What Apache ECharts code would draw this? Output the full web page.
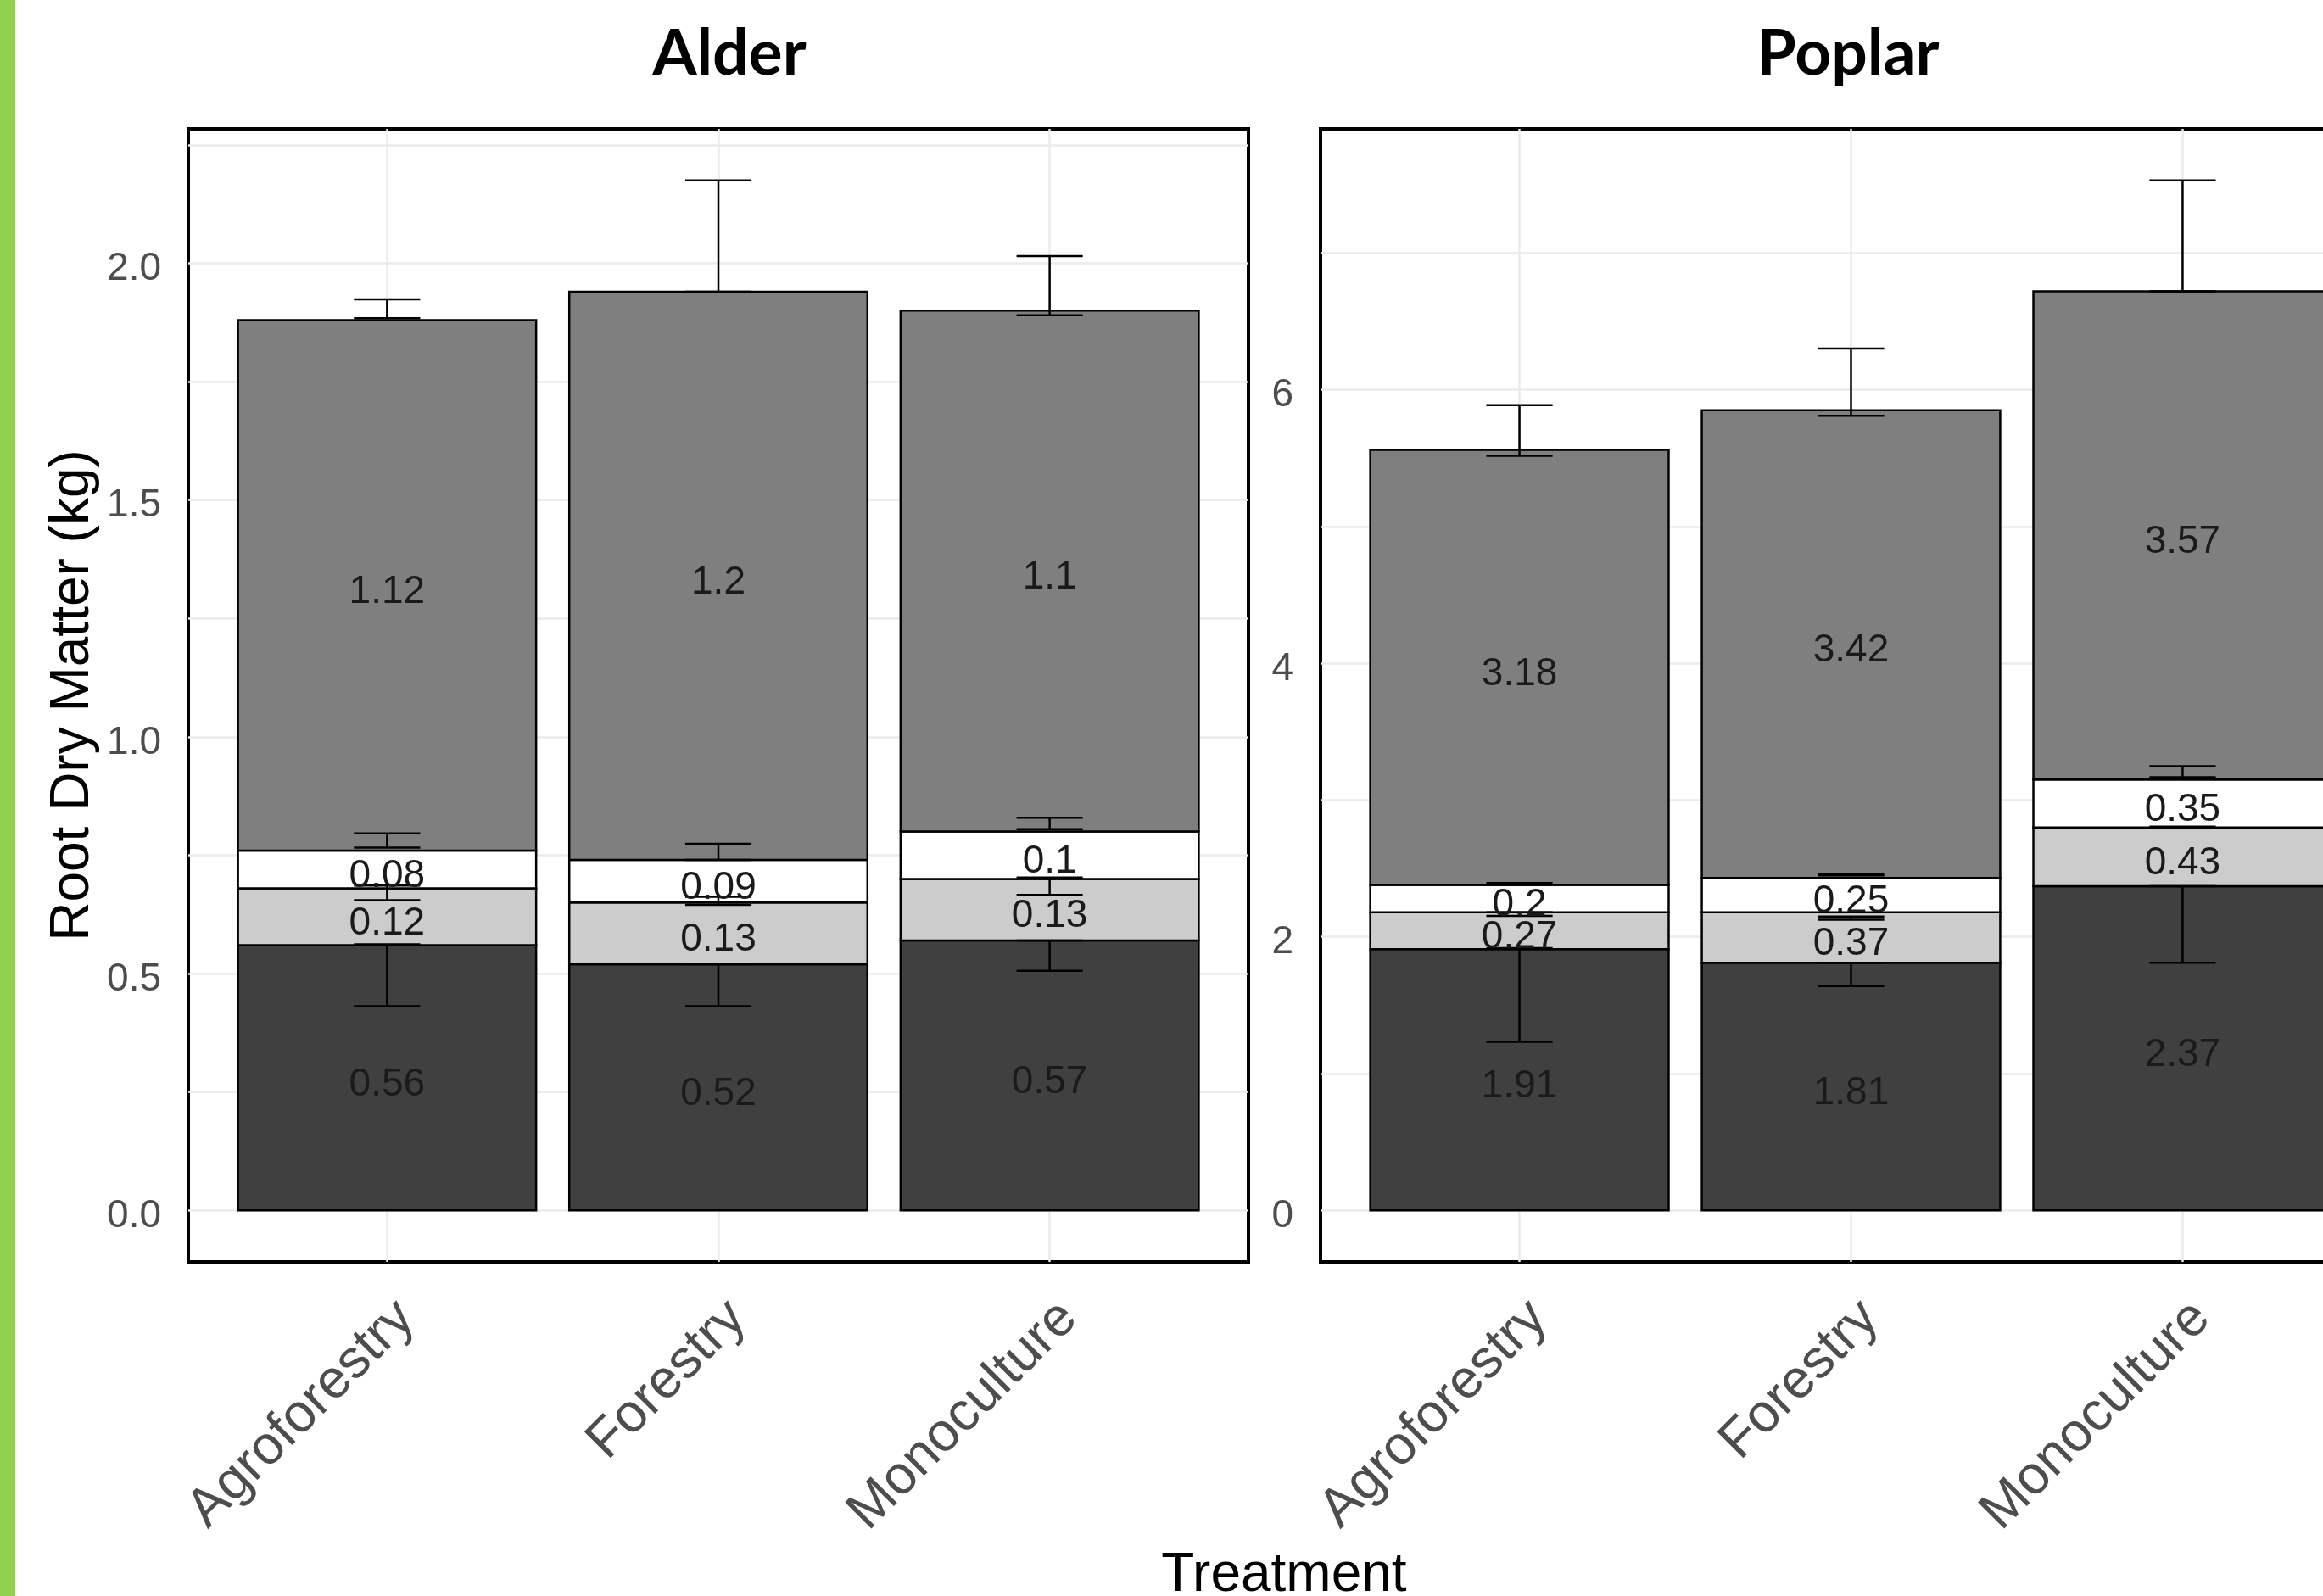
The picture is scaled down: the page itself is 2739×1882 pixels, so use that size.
<!DOCTYPE html>
<html>
<head>
<meta charset="utf-8">
<title>Root Dry Matter</title>
<script src="https://cdn.jsdelivr.net/npm/echarts@6/dist/echarts.min.js"></script>
<style>
  html, body { margin: 0; padding: 0; background: #fff; overflow: hidden; }
  #chart { position: absolute; left: 0; top: 0; width: 2900px; height: 1882px; }
  .edge { position: absolute; left: 0; top: 0; width: 18px; height: 1882px; background: #92d050; z-index: 2; }
</style>
</head>
<body>
<div id="chart"></div>
<div class="edge"></div>
<script>
// x categories (same for both panels)
const treatments = ['Agroforestry', 'Forestry', 'Monoculture'];

// Alder, stacked parts from bottom to top
const alderBottom = [0.56, 0.52, 0.57];
const alderLower = [0.12, 0.13, 0.13];
const alderUpper = [0.08, 0.09, 0.1];
const alderTop = [1.12, 1.2, 1.1];
// Alder error bars [low, high]
const alderErrBottom = [[0.431, 0.562], [0.431, 0.52], [0.506, 0.57]];
const alderErrLower = [[0.655, 0.686], [0.645, 0.662], [0.666, 0.703]];
const alderErrUpper = [[0.766, 0.796], [0.74, 0.774], [0.805, 0.829]];
const alderErrTop = [[1.884, 1.924], [1.94, 2.175], [1.89, 2.015]];

// Poplar, stacked parts from bottom to top
const poplarBottom = [1.91, 1.81, 2.37];
const poplarLower = [0.27, 0.37, 0.43];
const poplarUpper = [0.2, 0.25, 0.35];
const poplarTop = [3.18, 3.42, 3.57];
// Poplar error bars [low, high]
const poplarErrBottom = [[1.232, 1.918], [1.64, 1.81], [1.81, 2.37]];
const poplarErrLower = [[2.153, 2.18], [2.125, 2.149], [2.795, 2.805]];
const poplarErrUpper = [[2.38, 2.394], [2.449, 2.461], [3.167, 3.248]];
const poplarErrTop = [[5.516, 5.887], [5.81, 6.3], [6.72, 7.53]];

// y tick labels and minor grid
const alderTicks = [0, 0.5, 1, 1.5, 2];
const alderMinor = [0.25, 0.75, 1.25, 1.75, 2.25];
const poplarTicks = [0, 2, 4, 6];
const poplarMinor = [1, 3, 5, 7];

const layerColors = ['#404040', '#cccccc', '#ffffff', '#7f7f7f'];
const gridColor = '#ebebeb';
const font = '"Liberation Sans", Arial, sans-serif';
const xPad = 0.6;

// cumulative stacking -> [x, base, top, value]
function stackLayers(layers) {
  const base = treatments.map(() => 0);
  return layers.map(vals => vals.map((v, i) => {
    const item = [i + 1, base[i], base[i] + v, v];
    base[i] += v;
    return item;
  }));
}

function panelSeries(p, layers, errs) {
  const stacked = stackLayers(layers);
  const out = [];
  stacked.forEach((data, k) => {
    out.push({
      type: 'custom', xAxisIndex: p, yAxisIndex: p, z: 2,
      itemStyle: { color: layerColors[k] },
      data: data,
      renderItem: (params, api) => {
        const x = api.value(0);
        const a = api.coord([x - 0.45, api.value(2)]);
        const b = api.coord([x + 0.45, api.value(1)]);
        return {
          type: 'rect',
          shape: { x: a[0], y: a[1], width: b[0] - a[0], height: b[1] - a[1] },
          style: { fill: api.visual('color'), stroke: '#000', lineWidth: 2.5 }
        };
      }
    });
  });
  // error bars
  const errData = [];
  errs.forEach(layer => layer.forEach((e, i) => errData.push([i + 1, e[0], e[1]])));
  out.push({
    type: 'custom', xAxisIndex: p, yAxisIndex: p, z: 3,
    data: errData,
    renderItem: (params, api) => {
      const x = api.value(0);
      const lo = api.coord([x - 0.1, api.value(1)]);
      const hi = api.coord([x + 0.1, api.value(2)]);
      const mid = (lo[0] + hi[0]) / 2;
      const st = () => ({ stroke: '#000', lineWidth: 2.5 });
      return {
        type: 'group',
        children: [
          { type: 'line', shape: { x1: mid, y1: lo[1], x2: mid, y2: hi[1] }, style: st() },
          { type: 'line', shape: { x1: lo[0], y1: lo[1], x2: hi[0], y2: lo[1] }, style: st() },
          { type: 'line', shape: { x1: lo[0], y1: hi[1], x2: hi[0], y2: hi[1] }, style: st() }
        ]
      };
    }
  });
  // value labels in the middle of each part
  out.push({
    type: 'custom', xAxisIndex: p, yAxisIndex: p, z: 4,
    data: [].concat(...stacked),
    renderItem: (params, api) => {
      const pt = api.coord([api.value(0), (api.value(1) + api.value(2)) / 2]);
      return {
        type: 'text', x: pt[0], y: pt[1] + 8,
        style: { text: String(api.value(3)), font: '46px ' + font, fill: '#1a1a1a', align: 'center', verticalAlign: 'middle' }
      };
    }
  });
  return out;
}

function maxOf(errs) {
  return Math.max(...[].concat(...errs).map(e => e[1]));
}
const alderErrs = [alderErrBottom, alderErrLower, alderErrUpper, alderErrTop];
const poplarErrs = [poplarErrBottom, poplarErrLower, poplarErrUpper, poplarErrTop];
const alderMax = maxOf(alderErrs);
const poplarMax = maxOf(poplarErrs);

function xAxisFor(p) {
  const ticks = treatments.map((t, i) => i + 1);
  return {
    gridIndex: p, type: 'value', min: 1 - xPad, max: treatments.length + xPad,
    axisLine: { show: false },
    axisTick: { show: false, customValues: ticks },
    splitLine: { show: true, lineStyle: { color: gridColor, width: 2.5 } },
    axisLabel: {
      customValues: ticks, formatter: v => treatments[Math.round(v) - 1],
      rotate: 45, align: 'right', verticalAlign: 'top', margin: 34,
      fontSize: 64, color: '#4d4d4d', fontFamily: font
    }
  };
}

function yAxisFor(p, max, ticks, minor, fmt) {
  return {
    gridIndex: p, type: 'value', min: -0.05 * max, max: 1.05 * max,
    axisLine: { show: false },
    axisTick: { show: false, customValues: ticks.concat(minor) },
    splitLine: { show: true, lineStyle: { color: gridColor, width: 2.5 } },
    axisLabel: {
      customValues: ticks, formatter: fmt, fontSize: 46, color: '#4d4d4d', margin: 32,
      fontFamily: font, verticalAlign: 'top', lineHeight: 14
    }
  };
}

const chart = echarts.init(document.getElementById('chart'));
const yAlder = yAxisFor(0, alderMax, alderTicks, alderMinor, v => v.toFixed(1));
yAlder.name = 'Root Dry Matter (kg)';
yAlder.nameLocation = 'middle';
yAlder.nameRotate = 90;
yAlder.nameGap = 104;
yAlder.nameTextStyle = { fontSize: 64, color: '#000', fontFamily: font };

chart.setOption({
  animation: false,
  backgroundColor: '#fff',
  grid: [
    { left: 222, top: 152, width: 1250, height: 1336, show: true, borderColor: '#000', borderWidth: 4, backgroundColor: '#fff', outerBoundsMode: 'none' },
    { left: 1557, top: 152, width: 1251, height: 1336, show: true, borderColor: '#000', borderWidth: 4, backgroundColor: '#fff', outerBoundsMode: 'none' }
  ],
  xAxis: [xAxisFor(0), xAxisFor(1)],
  yAxis: [yAlder, yAxisFor(1, poplarMax, poplarTicks, poplarMinor, v => String(v))],
  graphic: [
    { type: 'text', x: 860, y: 64, style: { text: 'Alder', font: 'bold 75px Lato, sans-serif', fill: '#000', align: 'center', verticalAlign: 'middle' } },
    { type: 'text', x: 2179, y: 64, style: { text: 'Poplar', font: 'bold 75px Lato, sans-serif', fill: '#000', align: 'center', verticalAlign: 'middle' } },
    { type: 'text', x: 1514, y: 1858, style: { text: 'Treatment', font: '64px ' + font, fill: '#000', align: 'center', verticalAlign: 'middle' } }
  ],
  series: [].concat(
    panelSeries(0, [alderBottom, alderLower, alderUpper, alderTop], alderErrs),
    panelSeries(1, [poplarBottom, poplarLower, poplarUpper, poplarTop], poplarErrs)
  )
});
</script>
</body>
</html>
